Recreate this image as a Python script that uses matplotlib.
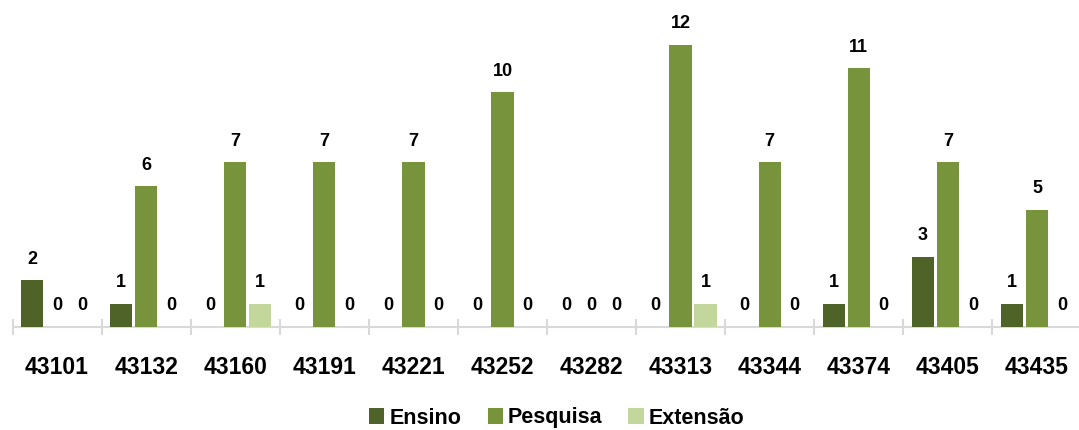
import matplotlib
matplotlib.use("Agg")
import matplotlib.pyplot as plt
import numpy as np

categories = ["43101", "43132", "43160", "43191", "43221", "43252",
              "43282", "43313", "43344", "43374", "43405", "43435"]
ensino = [2, 1, 0, 0, 0, 0, 0, 0, 0, 1, 3, 1]
pesquisa = [0, 6, 7, 7, 7, 10, 0, 12, 7, 11, 7, 5]
extensao = [0, 0, 1, 0, 0, 0, 0, 1, 0, 0, 0, 0]
series_names = ["Ensino", "Pesquisa", "Extensão"]
colors = ["#4f6228", "#77933c", "#c3d69b"]

plt.rcParams['font.family'] = ['Liberation Sans', 'DejaVu Sans']

W, H = 1079, 430
fig = plt.figure(figsize=(W / 100, H / 100), dpi=100)
left_px, right_px, bottom_px = 12.5, 1081.5, 327
ax = fig.add_axes([left_px / W, (H - bottom_px) / H, (right_px - left_px) / W, bottom_px / H])

x = np.arange(len(categories))
bw = 0.25
offs = [-0.28, 0.0, 0.28]
handles = []
for vals, off, col, name in zip([ensino, pesquisa, extensao], offs, colors, series_names):
    bars = ax.bar(x + off, vals, width=bw, color=col, label=name, zorder=3)
    handles.append(bars)
    for xi, v in zip(x + off, vals):
        ax.annotate(str(v), (xi, v), xytext=(0, 9), textcoords='offset points',
                    ha='center', va='bottom', fontsize=13, fontweight='bold', color='#000000')

ax.set_xlim(-0.5, len(categories) - 0.5)
ax.set_ylim(0, 327 / 23.5)
for s in ['top', 'right', 'left']:
    ax.spines[s].set_visible(False)
ax.spines['bottom'].set_color('#d9d9d9')
ax.spines['bottom'].set_linewidth(1.5)
ax.set_yticks([])
ax.set_xticks(x)
ax.set_xticklabels(categories, fontsize=16.5, fontweight='bold')
ax.tick_params(axis='x', which='major', length=0, pad=21)
ax.set_xticks(np.arange(-0.5, len(categories), 1.0), minor=True)
ax.tick_params(axis='x', which='minor', length=12, direction='inout', color='#d9d9d9', width=1.5)
ax.patch.set_alpha(0)

leg = fig.legend(handles=handles, labels=series_names, loc='center', bbox_to_anchor=(557 / W, (H - 418) / H),
                 ncol=3, frameon=False, prop={'size': 15.5, 'weight': 'bold'},
                 handlelength=0.7, handleheight=0.7, handletextpad=0.25, columnspacing=1.2,
                 borderaxespad=0, borderpad=0)

fig.savefig("out.png", dpi=100)
